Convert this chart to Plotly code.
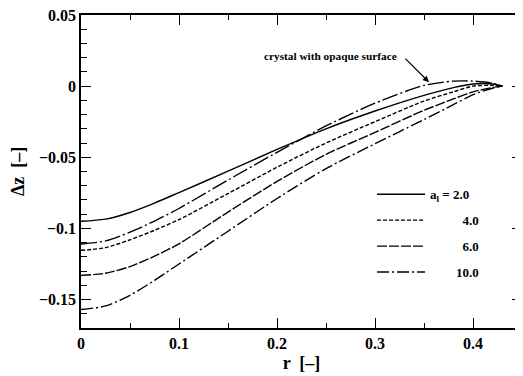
import plotly.graph_objects as go

r = [0.0, 0.025, 0.05, 0.075, 0.1, 0.15, 0.2, 0.25, 0.3, 0.35, 0.38, 0.4, 0.42, 0.43]

dz_a2 = [-0.095, -0.0935, -0.0888, -0.0822, -0.0748, -0.0598, -0.0445, -0.030, -0.0175, -0.0065, -0.001, 0.0015, 0.0015, 0.0]
dz_a4 = [-0.1154, -0.1135, -0.108, -0.1013, -0.0938, -0.0755, -0.057, -0.040, -0.025, -0.0105, -0.004, 0.0, 0.0005, 0.0]
dz_a6 = [-0.133, -0.1315, -0.1268, -0.1195, -0.1108, -0.0885, -0.067, -0.048, -0.0325, -0.017, -0.009, -0.004, -0.001, 0.0]
dz_a10 = [-0.157, -0.1545, -0.147, -0.1365, -0.125, -0.102, -0.079, -0.058, -0.0405, -0.0235, -0.013, -0.006, -0.0015, 0.0]
dz_opaque = [-0.111, -0.1088, -0.1026, -0.0948, -0.086, -0.066, -0.0465, -0.028, -0.012, 0.0005, 0.0035, 0.0035, 0.002, 0.0]

legend_names = ["a<sub>l</sub> = 2.0",
                "\u00a0" * 10 + "4.0",
                "\u00a0" * 10 + "6.0",
                "\u00a0" * 8 + "10.0"]
series = [dz_a2, dz_a4, dz_a6, dz_a10]
dashes = ["solid", "4px,2px", "10px,2px", "12px,3px,2px,3px"]

FONT = "Liberation Serif"

fig = go.Figure()
for i, (name, ys, d) in enumerate(zip(legend_names, series, dashes)):
    fig.add_trace(go.Scatter(
        x=r, y=ys, mode="lines", name=name, legendgroup=f"g{i}",
        line=dict(color="black", width=1.4, dash=d, shape="spline", smoothing=0.8),
    ))

fig.add_trace(go.Scatter(
    x=r, y=dz_opaque, mode="lines", showlegend=False,
    line=dict(color="black", width=1.4, dash="16px,3px,2px,3px", shape="spline", smoothing=0.8),
))

fig.add_annotation(
    x=0.2545, y=0.0215, xref="x", yref="y", text="<b>crystal with opaque surface</b>",
    showarrow=False, font=dict(family=FONT, size=11.3, color="black"),
)
fig.add_annotation(
    x=0.355, y=0.0028, xref="x", yref="y", text="", showarrow=True,
    ax=-25, ay=-25, arrowhead=2, arrowsize=1, arrowwidth=1.2, arrowcolor="black",
)

axis_common = dict(
    showline=True, linecolor="black", linewidth=1.5, mirror="allticks",
    ticks="inside", ticklen=10, tickwidth=1.3, tickcolor="black",
    showgrid=False, zeroline=False, automargin=False, ticklabeloverflow="allow",
    tickfont=dict(family=FONT, size=16, color="black", weight="bold"),
)

# page body has an 8px default margin; size the figure to fit the 523x376 window
fig.update_layout(
    width=515, height=368,
    margin=dict(l=73, r=1, t=7, b=48),
    paper_bgcolor="white", plot_bgcolor="white",
    showlegend=True,
    legend=dict(
        x=0.66, y=0.475, xanchor="left", yanchor="top",
        bgcolor="rgba(0,0,0,0)", borderwidth=0,
        font=dict(family=FONT, size=13, color="black", weight="bold"),
        traceorder="grouped", tracegroupgap=6, itemwidth=48,
    ),
    xaxis=dict(
        range=[0, 0.45], dtick=0.1, tick0=0,
        minor=dict(dtick=0.05, ticks="inside", ticklen=5, tickcolor="black", tickwidth=1),
        title=dict(text="<b>r  [–]</b>", font=dict(family=FONT, size=18, color="black"), standoff=5),
        **axis_common,
    ),
    yaxis=dict(
        range=[-0.17, 0.05], dtick=0.05, tick0=0,
        minor=dict(dtick=0.01, ticks="inside", ticklen=6, tickcolor="black", tickwidth=1),
        title=dict(text="<b>Δz  [–]</b>", font=dict(family=FONT, size=18, color="black"), standoff=16),
        **axis_common,
    ),
)

fig.write_html("out.html")
